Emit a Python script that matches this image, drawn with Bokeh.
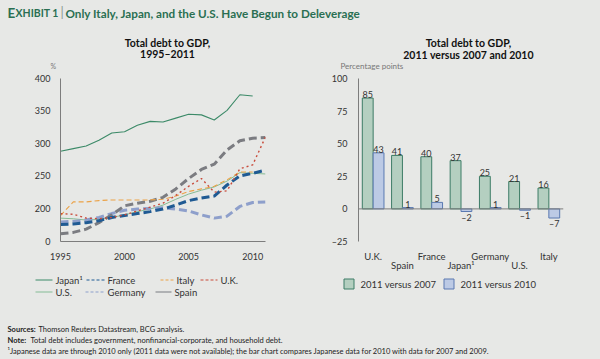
from bokeh.plotting import figure
from bokeh.models import (Range1d, FactorRange, Label, Span, FixedTicker, ColumnDataSource)
from bokeh.layouts import column, row
from bokeh.embed import file_html
from bokeh.resources import INLINE
from bokeh.transform import dodge
from bokeh.core.properties import value

BG = "#e7e8e6"
FONT = "Lato"
TXT = "#333333"
AX = "#7d7d7d"
GREEN_T = "#2a6f52"

# ---------------- data ----------------
years = list(range(1995, 2012))
japan = [288, 292, 296, 305, 316, 318, 328, 334, 333, 339, 345, 344, 336, 351, 375, 373]
us = [185, 184, 182, 183, 186, 190, 195, 199, 205, 214, 222, 228, 233, 242, 255, 254, 253]
italy = [189, 210, 210, 212, 213, 213, 213, 213, 214, 219, 226, 230, 234, 244, 256, 256]
uk = [192, 191, 185, 184, 186, 190, 196, 202, 208, 220, 234, 246, 225, 227, 261, 267, 310]
spain = [161, 163, 168, 178, 190, 204, 208, 211, 217, 230, 246, 260, 268, 290, 304, 308, 309]
france = [175, 176, 178, 181, 186, 189, 192, 195, 199, 205, 212, 216, 219, 236, 250, 254, 259]
germany = [179, 180, 182, 186, 192, 197, 199, 200, 201, 199, 196, 190, 185, 188, 203, 209, 210]

x_ticks = [1995, 2000, 2005, 2010]
y_ticks = [149, 200, 250, 300, 350, 400]

countries = ["U.K.", "Spain", "France", "Japan¹", "Germany", "U.S.", "Italy"]
vs2007 = [85, 41, 40, 37, 25, 21, 16]
vs2010 = [43, 1, 5, -2, 1, -1, -7]
bar_ticks = [-25, 0, 25, 50, 75, 100]

COLORS = {"Japan¹": "#3c8a68", "U.S.": "#86bb95", "France": "#1f5a93", "Germany": "#8e9fcb",
          "Italy": "#eba247", "Spain": "#7b7c81", "U.K.": "#c94b3b"}
STYLES = {
    "Japan¹": dict(line_width=1.1),
    "U.S.": dict(line_width=1),
    "France": dict(line_width=3, line_dash="8 4"),
    "Germany": dict(line_width=3, line_dash="8 4"),
    "Italy": dict(line_width=1.1, line_dash="5 3"),
    "Spain": dict(line_width=3, line_dash="8 4"),
    "U.K.": dict(line_width=1.4, line_dash="2 3"),
}
LEG_DASH = {"Japan¹": "solid", "U.S.": "solid", "France": "3 2", "Germany": "3 2",
            "Italy": "3 2", "Spain": "solid", "U.K.": "3 2"}
BAR_A = dict(fill_color="#b4cfc0", line_color="#3d7c66", line_width=1)
BAR_B = dict(fill_color="#bccae5", line_color="#5a79b1", line_width=1)


def fmt(v):
    return str(v) if v >= 0 else "\u2013" + str(-v)


def style_axis(ax, size="9px"):
    ax.axis_line_color = AX
    ax.major_tick_line_color = None
    ax.minor_tick_line_color = None
    ax.major_label_text_font = FONT
    ax.major_label_text_font_size = size
    ax.major_label_text_color = TXT


def blank(w, h):
    return figure(width=w, height=h, x_range=Range1d(0, w), y_range=Range1d(h, 0),
                  x_axis_type=None, y_axis_type=None, output_backend="svg",
                  toolbar_location=None, min_border=0, background_fill_color=BG,
                  border_fill_color=BG, outline_line_color=None, frame_align=False)


def label(p, x, y, text, size, bold=False, color=TXT, align="left", baseline="middle"):
    p.add_layout(Label(x=x, y=y, text=text, text_font=FONT, text_font_size=size,
                       text_font_style="bold" if bold else "normal", text_color=color,
                       text_align=align, text_baseline=baseline))


# ---------------- header ----------------
W = 600
header = blank(W, 30)
label(header, 7, 12, "E", "13.5px", True, GREEN_T)
label(header, 15, 12.6, "XHIBIT 1", "10.5px", True, GREEN_T)
label(header, 60, 11.5, "|", "13px", False, "#8a9a90")
label(header, 65, 12, "Only Italy, Japan, and the U.S. Have Begun to Deleverage", "11.7px", True, GREEN_T)

# ---------------- left column ----------------
CW_ = 300
ltitle = blank(CW_, 42)
label(ltitle, 167, 12, "Total debt to GDP,", "10.5px", True, "#111111", "center")
label(ltitle, 167, 23.5, "1995\u20132011", "10.5px", True, "#111111", "center")
label(ltitle, 50, 35, "%", "7px", False, "#777777")

left = figure(width=CW_, height=190, x_range=Range1d(1995, 2011), y_range=Range1d(149, 400),
              output_backend="svg", toolbar_location=None, frame_align=False,
              min_border_left=60, min_border_right=35, min_border_top=6, min_border_bottom=20,
              background_fill_color=BG, border_fill_color=BG, outline_line_color=None)
left.grid.visible = False
left.xaxis.ticker = FixedTicker(ticks=x_ticks)
left.yaxis.ticker = FixedTicker(ticks=y_ticks)
left.yaxis.major_label_overrides = {149: "0"}
style_axis(left.xaxis[0])
style_axis(left.yaxis[0])
left.xaxis.major_label_standoff = 5
left.yaxis.major_label_standoff = 4

series = [("U.S.", us), ("Japan¹", japan), ("Germany", germany), ("Spain", spain),
          ("France", france), ("Italy", italy), ("U.K.", uk)]
for name, vals in series:
    left.line(years[:len(vals)], vals, line_color=COLORS[name], **STYLES[name])

# legend (drawn as key swatches + labels in a small panel under the chart)
lleg = blank(CW_, 44)
LEG_LAYOUT = [("Japan¹", 35, 52, 17.5), ("U.S.", 35, 52, 29.5),
              ("France", 86, 104, 17.5), ("Germany", 85, 104, 29.5),
              ("Italy", 160, 173, 17.5), ("Spain", 155, 171, 29.5),
              ("U.K.", 200, 217, 17.5)]
for name, x0, x1, yy in LEG_LAYOUT:
    lleg.line([x0, x1], [yy, yy], line_color=COLORS[name], line_width=1.2,
              line_dash=LEG_DASH[name])
    label(lleg, x1 + 3, yy, name, "9.5px", False, TXT)

# ---------------- right column ----------------
rtitle = blank(CW_, 42)
label(rtitle, 168, 12, "Total debt to GDP,", "10.5px", True, "#111111", "center")
label(rtitle, 168, 24, "2011 versus 2007 and 2010", "10.5px", True, "#111111", "center")
label(rtitle, 40, 35, "Percentage points", "8px", False, "#777777")

# alternate category labels onto two rows
factors = [c if i % 2 == 0 else "\n" + c for i, c in enumerate(countries)]

right = figure(width=CW_, height=202, x_range=FactorRange(*factors, range_padding=0),
               y_range=Range1d(-25, 100), output_backend="svg", toolbar_location=None,
               frame_align=False,
               min_border_left=58, min_border_right=37, min_border_top=6, min_border_bottom=31,
               background_fill_color=BG, border_fill_color=BG, outline_line_color=None)
right.grid.visible = False
right.yaxis.ticker = FixedTicker(ticks=bar_ticks)
right.yaxis.major_label_overrides = {-25: "\u201325"}
style_axis(right.yaxis[0])
right.yaxis.major_label_standoff = 5
ax1 = right.xaxis[0]
style_axis(ax1, "9.5px")
ax1.axis_line_color = None
ax1.major_label_standoff = 3
ax1.major_label_text_line_height = 0.9

src = ColumnDataSource(dict(c=factors, a=vs2007, b=vs2010, la=[fmt(v) for v in vs2007]))
pos_b = [(f, v) for f, v in zip(factors, vs2010) if v >= 0]
neg_b = [(f, v) for f, v in zip(factors, vs2010) if v < 0]
src_pb = ColumnDataSource(dict(c=[t[0] for t in pos_b], v=[t[1] for t in pos_b],
                               l=[fmt(t[1]) for t in pos_b]))
src_nb = ColumnDataSource(dict(c=[t[0] for t in neg_b], v=[t[1] for t in neg_b],
                               l=[fmt(t[1]) for t in neg_b]))

OFF = 0.185
right.vbar(x=dodge("c", -OFF, range=right.x_range), top="a", bottom=0, width=0.37,
           source=src, **BAR_A)
right.vbar(x=dodge("c", OFF, range=right.x_range), top="b", bottom=0, width=0.37,
           source=src, **BAR_B)
right.add_layout(Span(location=0, dimension="width", line_color=AX, line_width=1))

tkw = dict(text_align="center", text_font=value(FONT), text_font_size="9px", text_color=TXT)
right.text(x=dodge("c", -OFF, range=right.x_range), y="a", text="la", source=src,
           text_baseline="bottom", **tkw)
right.text(x=dodge("c", OFF, range=right.x_range), y="v", text="l", source=src_pb,
           text_baseline="bottom", **tkw)
right.text(x=dodge("c", OFF, range=right.x_range), y="v", text="l", source=src_nb,
           text_baseline="top", **tkw)

rleg = blank(CW_, 32)
rleg.quad(left=[43.5], right=[53.5], top=[4.5], bottom=[14.5], **BAR_A)
rleg.quad(left=[143.5], right=[153.5], top=[4.5], bottom=[14.5], **BAR_B)
label(rleg, 60, 9.5, "2011 versus 2007", "9.5px", False, TXT)
label(rleg, 160, 9.5, "2011 versus 2010", "9.5px", False, TXT)

# ---------------- footer ----------------
footer = blank(W, 53)
FS = "7.5px"
label(footer, 7, 23, "Sources:", FS, True, "#222222")
label(footer, 38, 23, "Thomson Reuters Datastream, BCG analysis.", FS, False, "#222222")
label(footer, 7, 34, "Note:", FS, True, "#222222")
label(footer, 30, 34, "Total debt includes government, nonfinancial-corporate, and household debt.",
      FS, False, "#222222")
label(footer, 7, 45, "¹Japanese data are through 2010 only (2011 data were not available); the bar chart "
      "compares Japanese data for 2010 with data for 2007 and 2009.", FS, False, "#222222")

bgs = {"background-color": BG}
layout = column(header,
                row(column(ltitle, left, lleg, styles=bgs),
                    column(rtitle, right, rleg, styles=bgs), styles=bgs),
                footer, styles=bgs)
open("out.html", "w").write(file_html(layout, INLINE))
